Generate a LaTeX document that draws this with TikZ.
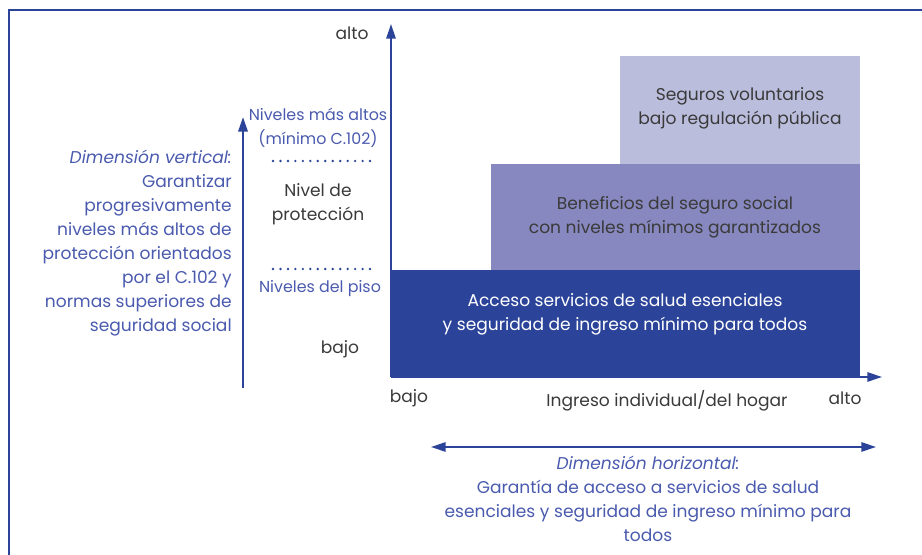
\documentclass[tikz,border=0pt]{standalone}
\usepackage{fontspec}
\setmainfont{Poppins}
\usetikzlibrary{arrows.meta}
\definecolor{dkblue}{HTML}{2B4499}
\definecolor{midblue}{HTML}{8888C0}
\definecolor{ltblue}{HTML}{BBBDDD}
\definecolor{txtblue}{HTML}{4A5AAE}
\definecolor{txtgray}{HTML}{3A3A3A}
\tikzset{
  lbl/.style={font=\fontsize{12.8}{18}\selectfont, text=txtgray, inner sep=0pt, align=center},
  blbl/.style={font=\fontsize{12.8}{18}\selectfont, text=txtblue, inner sep=0pt, align=center},
  sblbl/.style={font=\fontsize{11.9}{18}\selectfont, text=txtblue, inner sep=0pt, align=center},
  axis/.style={draw=dkblue, line width=1.4pt, -{Triangle[length=11pt,width=7pt]}},
  dots/.style={draw=dkblue, line width=2pt, dash pattern=on 0pt off 5.6pt, line cap=round},
}
\begin{document}
\begin{tikzpicture}[x=0.75pt,y=-0.75pt]
\useasboundingbox (0,0) rectangle (922,555);
% frame
\draw[dkblue, line width=1pt] (9,555) -- (9,10) -- (922,10);
% boxes
\fill[ltblue] (620,56) rectangle (860,164);
\fill[midblue] (491,164) rectangle (860,270);
\fill[dkblue] (391,270) rectangle (860,377);
\node[lbl] (sv) at (740,108) {Seguros voluntarios\\bajo regulación pública};
\node[lbl] (bs) at (675,217) {Beneficios del seguro social\\con niveles mínimos garantizados};
\node[lbl, text=white] (ac) at (625,314) {Acceso servicios de salud esenciales\\y seguridad de ingreso mínimo para todos};
% axes
\coordinate (o) at (391,377);
\coordinate (ytop) at (391,24);
\coordinate (xend) at (882,377);
\draw[axis] (o) -- (ytop);
\draw[axis] (o) -- (xend);
\node[lbl] (alto1) at (352,33) {alto};
\node[lbl] (bajo1) at (340,349) {bajo};
\node[lbl] (bajo2) at (409,398) {bajo};
\node[lbl] (ing) at (667,401) {Ingreso individual/del hogar};
\node[lbl] (alto2) at (845,398) {alto};
% level labels
\node[sblbl] (nma) at (318,128) {Niveles más altos\\(mínimo C.102)};
\node[lbl] (np) at (318,204) {Nivel de\\protección};
\node[sblbl] (npi) at (320,289) {Niveles del piso};
\coordinate (d1a) at (273,161);
\coordinate (d1b) at (377,161);
\coordinate (d2a) at (273,269);
\coordinate (d2b) at (377,269);
\draw[dots] (d1a) -- (d1b);
\draw[dots] (d2a) -- (d2b);
% vertical dimension arrow
\coordinate (va) at (243,388);
\coordinate (vb) at (243,117);
\draw[axis, line width=1.8pt] (va) -- (vb);
\node[blbl, align=right, anchor=north east] (vt) at (232,150) {\textit{Dimensión vertical:}\\Garantizar\\progresivamente\\niveles más altos de\\protección orientados\\por el C.102 y\\normas superiores de\\seguridad social};
% horizontal dimension arrow
\coordinate (ha) at (431,447);
\coordinate (hb) at (876,447);
\draw[draw=dkblue, line width=1.4pt, {Triangle[length=11pt,width=7pt]}-{Triangle[length=11pt,width=7pt]}] (ha) -- (hb);
\node[blbl, anchor=north] (ht) at (648,456) {\textit{Dimensión horizontal:}\\Garantía de acceso a servicios de salud\\esenciales y seguridad de ingreso mínimo para\\todos};
\end{tikzpicture}
\end{document}
